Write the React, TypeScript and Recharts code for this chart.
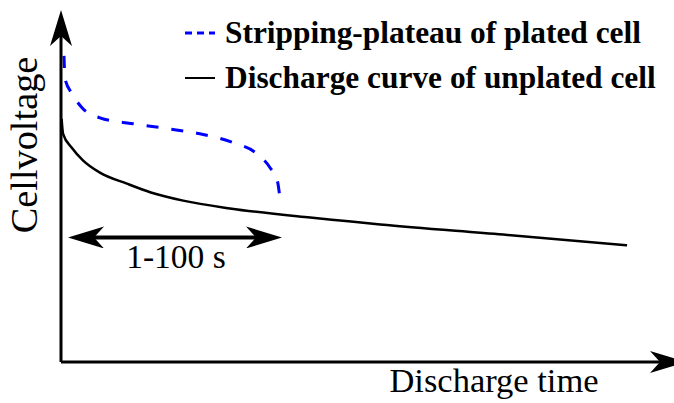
import { LineChart, Line, XAxis, YAxis, ReferenceLine, Legend, Label } from "recharts";

// eje x: tiempo de descarga (unidades relativas 0-100), eje y: tensión relativa
const plateauTime = [0.5, 0.67, 1.84, 3.67, 6.5, 12.0, 17.7, 23.2, 28.7, 32.7, 34.9, 36.1, 36.6];
const plateauVoltage = [93.9, 86.9, 82.3, 77.7, 74.9, 73.1, 71.6, 70.0, 67.3, 63.9, 59.6, 55.7, 49.5];

const dischargeTime = [0.1, 0.35, 1.8, 3.7, 6.5, 11, 15, 20.4, 28.2, 41.6, 46.6, 53.3, 73.8, 94.5];
const dischargeVoltage = [74.6, 70, 65.7, 61.8, 58.1, 54.7, 52, 49.5, 47.1, 44.3, 43.4, 42.2, 39.1, 35.8];

const seriesNames = ["Stripping-plateau of plated cell", "Discharge curve of unplated cell"];
const seriesColors = ["#0000ff", "#000000"];

// rango marcado con la flecha doble
const rangeTime = [1.17, 36.9];
const rangeLevel = 38.2;
const rangeLabel = "1-100 s";

const xLabel = "Discharge time";
const yLabel = "Cellvoltage";

const font = "Liberation Serif";

const plateauData = plateauTime.map((t, i) => ({ t, v: plateauVoltage[i] }));
const dischargeData = dischargeTime.map((t, i) => ({ t, v: dischargeVoltage[i] }));

const NOTCH = 10;

const RangeArrow = (p: any) => {
  const { x1, y1, x2 } = p;
  const back = 36 - NOTCH;
  return (
    <g>
      <line
        x1={x1 + back}
        y1={y1}
        x2={x2 - back}
        y2={y1}
        stroke="#000"
        strokeWidth={4}
        markerStart="url(#head)"
        markerEnd="url(#head)"
      />
      <text
        x={(x1 + x2) / 2 + 1}
        y={y1 + 31}
        textAnchor="middle"
        style={{ fontFamily: font, fontSize: 33.5 }}
        fill="#000"
      >
        {rangeLabel}
      </text>
    </g>
  );
};

const renderLegend = (props: any) => {
  const items = [...(props.payload || [])].sort(
    (a: any, b: any) => seriesNames.indexOf(a.value) - seriesNames.indexOf(b.value)
  );
  return (
    <div style={{ fontFamily: font, fontWeight: "bold", fontSize: 31.4, color: "#000" }}>
      {items.map((entry: any) => {
        const dashed = entry.value === seriesNames[0];
        return (
          <div
            key={entry.value}
            style={{ display: "flex", alignItems: "center", height: 45, lineHeight: "45px", whiteSpace: "nowrap" }}
          >
            <svg width={30} height={6} style={{ marginRight: 10 }}>
              <line
                x1={0}
                y1={3}
                x2={30}
                y2={3}
                stroke={entry.color}
                strokeWidth={dashed ? 3 : 2}
                strokeDasharray={dashed ? "7 5" : undefined}
              />
            </svg>
            <span>{entry.value}</span>
          </div>
        );
      })}
    </div>
  );
};

export default function App() {
  return (
    <div style={{ position: "absolute", left: 0, top: 0 }}>
      <svg width={1} height={1} style={{ position: "absolute" }}>
        <defs>
          <marker
            id="head"
            viewBox="0 0 36 22"
            refX={NOTCH}
            refY={11}
            markerWidth={36}
            markerHeight={22}
            markerUnits="userSpaceOnUse"
            orient="auto-start-reverse"
          >
            <path d="M36,11 L0,0 L10,11 L0,22 Z" fill="#000" />
          </marker>
        </defs>
      </svg>
      <LineChart width={674} height={403} margin={{ top: 36, right: 14, bottom: 40, left: 60 }}>
        <XAxis
          type="number"
          dataKey="t"
          domain={[0, 100]}
          height={1}
          tick={false}
          tickLine={false}
          axisLine={{ stroke: "#000", strokeWidth: 3, markerEnd: "url(#head)" }}
        >
          <Label
            content={() => (
              <text x={494} y={392} textAnchor="middle" style={{ fontFamily: font, fontSize: 34.5 }} fill="#000">
                {xLabel}
              </text>
            )}
          />
        </XAxis>
        <YAxis
          type="number"
          domain={[0, 100]}
          width={1}
          tick={false}
          tickLine={false}
          axisLine={{ stroke: "#000", strokeWidth: 3, markerStart: "url(#head)" }}
        >
          <Label
            content={() => (
              <text
                x={37}
                y={145}
                transform="rotate(-90, 37, 145)"
                textAnchor="middle"
                style={{ fontFamily: font, fontSize: 38.3 }}
                fill="#000"
              >
                {yLabel}
              </text>
            )}
          />
        </YAxis>
        <Legend
          layout="vertical"
          align="center"
          verticalAlign="middle"
          wrapperStyle={{ left: 185, top: 10, width: "auto" }}
          content={renderLegend}
        />
        <Line
          data={plateauData}
          dataKey="v"
          name={seriesNames[0]}
          type="monotone"
          stroke={seriesColors[0]}
          strokeWidth={3}
          strokeDasharray="12 13"
          dot={false}
          isAnimationActive={false}
        />
        <Line
          data={dischargeData}
          dataKey="v"
          name={seriesNames[1]}
          type="monotone"
          stroke={seriesColors[1]}
          strokeWidth={2.5}
          dot={false}
          isAnimationActive={false}
        />
        <ReferenceLine
          segment={[
            { x: rangeTime[0], y: rangeLevel },
            { x: rangeTime[1], y: rangeLevel },
          ]}
          shape={RangeArrow}
        />
      </LineChart>
    </div>
  );
}
